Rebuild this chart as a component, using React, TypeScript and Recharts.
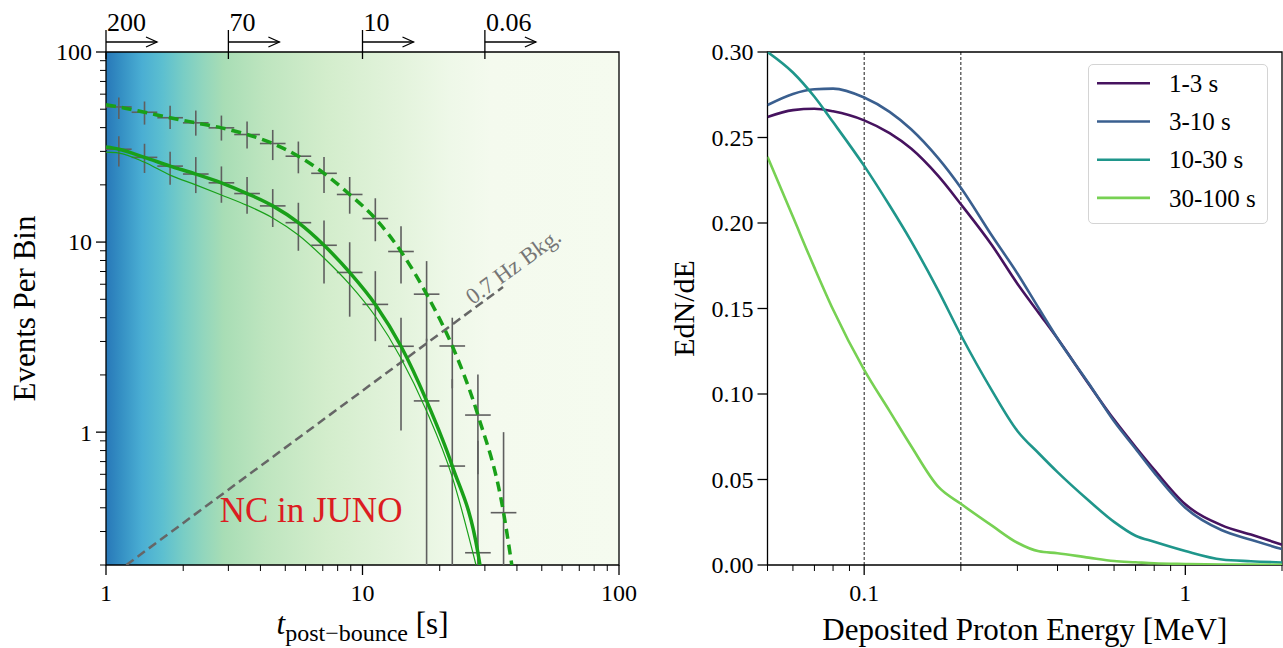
import React from "react";
import {
  ComposedChart,
  LineChart,
  Line,
  Scatter,
  ErrorBar,
  XAxis,
  YAxis,
  ReferenceArea,
  ReferenceDot,
  ReferenceLine,
} from "recharts";

const FONT = "'Liberation Serif', 'DejaVu Serif', serif";

// ---------------------------------------------------------------------------
// Left panel: NC events in JUNO per time bin
// ---------------------------------------------------------------------------

const binEdges = [1, 1.259, 1.585, 1.995, 2.512, 3.162, 3.981, 5.012, 6.31, 7.943, 10, 12.59, 15.85, 19.95, 25.12, 31.62, 39.81];
const binCenters = [1.122, 1.413, 1.778, 2.239, 2.818, 3.548, 4.467, 5.623, 7.079, 8.913, 11.22, 14.13, 17.78, 22.39, 28.18, 35.48];

const upperCounts = [51.4, 48.2, 45.1, 42.4, 39.9, 36.8, 33.0, 28.3, 23.0, 17.8, 13.3, 8.92, 5.32, 2.84, 1.23, 0.377];
const upperLow = [44.4, 41.5, 39.3, 36.3, 34.2, 31.1, 27.0, 23.0, 18.1, 14.1, 10.1, 6.06, 3.0, 1.7, 0.6, 0.2];
const upperHigh = [57.7, 54.9, 52.2, 49.2, 46.3, 43.1, 38.9, 33.8, 28.0, 22.0, 17.0, 12.1, 7.94, 4.0, 2.01, 1.0];

const lowerCounts = [30.8, 27.9, 25.1, 22.8, 20.5, 18.0, 15.5, 12.65, 9.62, 6.92, 4.7, 2.83, 1.46, 0.663, 0.232];
const lowerLow = [25.0, 23.1, 20.0, 18.1, 16.1, 14.1, 12.0, 9.0, 6.06, 4.05, 3.01, 1.02, 0.2, 0.2, 0.2];
const lowerHigh = [36.0, 32.9, 29.9, 28.0, 25.0, 22.0, 19.0, 16.1, 13.0, 9.98, 7.03, 4.0, 3.1, 1.9, 0.9];

const dashedT = [1, 1.122, 1.413, 1.778, 2.239, 2.818, 3.548, 4.467, 5.623, 7.079, 8.913, 11.22, 14.13, 17.78, 22.39, 28.18, 35.48, 38.2];
const dashedN = [52.8, 51.4, 48.2, 45.1, 42.4, 39.9, 36.8, 33.0, 28.3, 23.0, 17.8, 13.3, 8.92, 5.32, 2.84, 1.23, 0.377, 0.2];

const thickT = [1, 1.122, 1.413, 1.778, 2.239, 2.818, 3.548, 4.467, 5.623, 7.079, 8.913, 11.22, 14.13, 17.78, 22.39, 28.18, 28.7];
const thickN = [31.6, 30.8, 27.9, 25.1, 22.8, 20.5, 18.0, 15.5, 12.65, 9.62, 6.92, 4.7, 2.83, 1.46, 0.663, 0.232, 0.2];

const thinT = [1, 1.122, 1.413, 1.778, 2.239, 2.818, 3.548, 4.467, 5.623, 7.079, 8.913, 11.22, 14.13, 17.78, 22.39, 27.7];
const thinN = [29.7, 29.4, 26.3, 22.5, 20.0, 17.7, 15.6, 13.4, 10.9, 8.25, 5.99, 4.07, 2.45, 1.29, 0.58, 0.2];

const bkgT = [1.2, 35.3];
const bkgN = [0.2, 5.8];

const topTimes = [1, 3, 10, 30];
const topLabels = ["200", "70", "10", "0.06"];

const leftXTicks = [1, 2, 3, 4, 5, 6, 7, 8, 9, 10, 20, 30, 40, 50, 60, 70, 80, 90, 100];
const leftXMajor = [1, 10, 100];
const leftYTicks = [0.2, 0.3, 0.4, 0.5, 0.6, 0.7, 0.8, 0.9, 1, 2, 3, 4, 5, 6, 7, 8, 9, 10, 20, 30, 40, 50, 60, 70, 80, 90, 100];
const leftYMajor = [1, 10, 100];

// ---------------------------------------------------------------------------
// Right panel: deposited proton energy spectra
// ---------------------------------------------------------------------------

const energy = [0.05, 0.06, 0.07, 0.08, 0.1, 0.12, 0.14, 0.17, 0.2, 0.25, 0.3, 0.35, 0.4, 0.5, 0.6, 0.7, 0.8, 1.0, 1.3, 1.6, 2.0];
const spec1to3 = [0.262, 0.266, 0.2668, 0.2653, 0.26, 0.2525, 0.2435, 0.2275, 0.211, 0.187, 0.1645, 0.1473, 0.1324, 0.1059, 0.085, 0.069, 0.0558, 0.0355, 0.0232, 0.0178, 0.0119];
const spec3to10 = [0.269, 0.2755, 0.2782, 0.2786, 0.2734, 0.265, 0.2548, 0.2379, 0.2206, 0.1925, 0.1705, 0.15, 0.1325, 0.1063, 0.084, 0.068, 0.054, 0.0335, 0.0203, 0.0148, 0.0093];
const spec10to30 = [0.3, 0.288, 0.2738, 0.259, 0.2334, 0.2102, 0.1894, 0.1606, 0.1345, 0.102, 0.0784, 0.0652, 0.0543, 0.0377, 0.0252, 0.0171, 0.0136, 0.0082, 0.0032, 0.0022, 0.0015];
const spec30to100 = [0.2387, 0.2036, 0.1739, 0.1494, 0.1141, 0.09, 0.0696, 0.0458, 0.0358, 0.023, 0.013, 0.008, 0.0069, 0.0043, 0.0023, 0.0016, 0.001, 0.0006, 0.0003, 0.0002, 0.0001];

const seriesNames = ["1-3 s", "3-10 s", "10-30 s", "30-100 s"];
const seriesKeys = ["s1", "s2", "s3", "s4"];
const seriesColors = ["#46135f", "#3a5f8f", "#1f968b", "#77d153"];

const rightXTicks = [0.05, 0.06, 0.07, 0.08, 0.09, 0.1, 0.2, 0.3, 0.4, 0.5, 0.6, 0.7, 0.8, 0.9, 1, 2];
const rightXMajor = [0.1, 1];
const rightYTicks = [0, 0.05, 0.1, 0.15, 0.2, 0.25, 0.3];
const markerEnergies = [0.1, 0.2];

// ---------------------------------------------------------------------------
// Derived tables
// ---------------------------------------------------------------------------

const Y_FLOOR = 0.2;

const buildPoints = (counts: number[], lo: number[], hi: number[]) =>
  counts.map((n, i) => ({
    t: binCenters[i],
    n,
    ex: [binCenters[i] - binEdges[i], binEdges[i + 1] - binCenters[i]],
    ey: [n - Math.max(lo[i], Y_FLOOR), hi[i] - n],
  }));

const toSeries = (ts: number[], ns: number[]) => ts.map((t, i) => ({ t, n: ns[i] }));

const upperPoints = buildPoints(upperCounts, upperLow, upperHigh);
const lowerPoints = buildPoints(lowerCounts, lowerLow, lowerHigh);

const spectra = energy.map((e, i) => ({
  e,
  s1: spec1to3[i],
  s2: spec3to10[i],
  s3: spec10to30[i],
  s4: spec30to100[i],
}));

// ---------------------------------------------------------------------------
// Ticks
// ---------------------------------------------------------------------------

const isIn = (list: number[], v: number) => list.some((m) => Math.abs(m - v) < 1e-9);

function makeXTick(majors: number[], fmt: (v: number) => string) {
  return (props: any) => {
    const { x, y, payload } = props;
    const major = isIn(majors, payload.value);
    return (
      <g>
        <line x1={x} x2={x} y1={y} y2={y + (major ? 10 : 6)} stroke="#000" strokeWidth={major ? 1.3 : 1} />
        {major && (
          <text x={x} y={y + 36} textAnchor="middle" fontSize={24} fontFamily={FONT} fill="#000">
            {fmt(payload.value)}
          </text>
        )}
      </g>
    );
  };
}

function makeYTick(majors: number[] | null, fmt: (v: number) => string) {
  return (props: any) => {
    const { x, y, payload } = props;
    const major = majors ? isIn(majors, payload.value) : true;
    return (
      <g>
        <line x1={x - (major ? 10 : 6)} x2={x} y1={y} y2={y} stroke="#000" strokeWidth={major ? 1.3 : 1} />
        {major && (
          <text x={x - 14} y={y} dy="0.35em" textAnchor="end" fontSize={24} fontFamily={FONT} fill="#000">
            {fmt(payload.value)}
          </text>
        )}
      </g>
    );
  };
}

const topMarker = (label: string) => (p: any) => {
  const { cx, cy } = p;
  return (
    <g>
      <line x1={cx} x2={cx} y1={cy - 22} y2={cy + 7} stroke="#000" strokeWidth={1.3} />
      <line x1={cx} x2={cx + 51} y1={cy - 10} y2={cy - 10} stroke="#000" strokeWidth={1.3} />
      <polyline
        points={`${cx + 40},${cy - 15} ${cx + 51},${cy - 10} ${cx + 40},${cy - 5}`}
        fill="none"
        stroke="#000"
        strokeWidth={1.3}
      />
      <text x={cx + 1} y={cy - 21} fontSize={26} fontFamily={FONT} fill="#000">
        {label}
      </text>
    </g>
  );
};

const noMarker = () => <g />;

// ---------------------------------------------------------------------------
// Panels
// ---------------------------------------------------------------------------

function LeftPanel() {
  return (
    <ComposedChart width={640} height={648} margin={{ top: 52, right: 21, bottom: 23, left: 46 }}>
      <XAxis
        dataKey="t"
        type="number"
        scale="log"
        domain={[1, 100]}
        allowDataOverflow
        ticks={leftXTicks}
        interval={0}
        tickSize={0}
        tickMargin={0}
        axisLine={false}
        tickLine={false}
        height={60}
        tick={makeXTick(leftXMajor, (v) => String(v))}
        label={{
          content: (p: any) => {
            const vb = p.viewBox;
            return (
              <text x={vb.x + vb.width / 2} y={vb.y + 69} textAnchor="middle" fontSize={31} fontFamily={FONT} fill="#000">
                <tspan fontStyle="italic">t</tspan>
                <tspan fontSize={24} dy={7}>post−bounce</tspan>
                <tspan dy={-7}>{" [s]"}</tspan>
              </text>
            );
          },
        }}
      />
      <YAxis
        type="number"
        scale="log"
        domain={[0.2, 100]}
        allowDataOverflow
        ticks={leftYTicks}
        interval={0}
        tickSize={0}
        tickMargin={0}
        axisLine={false}
        tickLine={false}
        width={60}
        tick={makeYTick(leftYMajor, (v) => String(v))}
        label={{
          content: (p: any) => {
            const vb = p.viewBox;
            const bx = vb.x + vb.width - 71;
            const cy = vb.y + vb.height / 2;
            return (
              <text x={bx} y={cy} transform={`rotate(-90, ${bx}, ${cy})`} textAnchor="middle" fontSize={31} fontFamily={FONT} fill="#000">
                Events Per Bin
              </text>
            );
          },
        }}
      />
      <ReferenceArea x1={1} x2={100} y1={0.2} y2={100} fill="url(#gnbuFade)" fillOpacity={1} stroke="#000" strokeWidth={1.3} />

      <Line data={toSeries(bkgT, bkgN)} dataKey="n" stroke="#666" strokeWidth={2.5} strokeDasharray="9 5" dot={false} isAnimationActive={false} />

      <Scatter data={upperPoints} dataKey="n" shape={noMarker} isAnimationActive={false}>
        <ErrorBar dataKey="ex" direction="x" width={0} stroke="#5f5f5f" strokeWidth={1.6} />
        <ErrorBar dataKey="ey" direction="y" width={0} stroke="#5f5f5f" strokeWidth={1.6} />
      </Scatter>
      <Scatter data={lowerPoints} dataKey="n" shape={noMarker} isAnimationActive={false}>
        <ErrorBar dataKey="ex" direction="x" width={0} stroke="#5f5f5f" strokeWidth={1.6} />
        <ErrorBar dataKey="ey" direction="y" width={0} stroke="#5f5f5f" strokeWidth={1.6} />
      </Scatter>

      <Line data={toSeries(dashedT, dashedN)} dataKey="n" type="monotone" stroke="#19a019" strokeWidth={3.5} strokeDasharray="10 6" dot={false} isAnimationActive={false} />
      <Line data={toSeries(thickT, thickN)} dataKey="n" type="monotone" stroke="#19a019" strokeWidth={3.5} dot={false} isAnimationActive={false} />
      <Line data={toSeries(thinT, thinN)} dataKey="n" type="monotone" stroke="#19a019" strokeWidth={1.2} dot={false} isAnimationActive={false} />

      {topTimes.map((t, i) => (
        <ReferenceDot key={t} x={t} y={100} r={0} ifOverflow="visible" shape={topMarker(topLabels[i])} />
      ))}

      <ReferenceDot
        x={38.6}
        y={7.48}
        r={0}
        ifOverflow="visible"
        shape={(p: any) => (
          <text x={p.cx} y={p.cy} dy="0.35em" transform={`rotate(-36, ${p.cx}, ${p.cy})`} textAnchor="middle" fontSize={23} fontFamily={FONT} fill="#767676">
            0.7 Hz Bkg.
          </text>
        )}
      />
      <ReferenceDot
        x={6.3}
        y={0.389}
        r={0}
        ifOverflow="visible"
        shape={(p: any) => (
          <text x={p.cx} y={p.cy + 12} textAnchor="middle" fontSize={35} fontFamily={FONT} fill="#dc1c22">
            NC in JUNO
          </text>
        )}
      />
    </ComposedChart>
  );
}

function RightPanel() {
  return (
    <LineChart width={643} height={648} data={spectra} margin={{ top: 52, right: 1, bottom: 23, left: 67.5 }}>
      <XAxis
        dataKey="e"
        type="number"
        scale="log"
        domain={[0.05, 2]}
        allowDataOverflow
        ticks={rightXTicks}
        interval={0}
        tickSize={0}
        tickMargin={0}
        axisLine={false}
        tickLine={false}
        height={60}
        tick={makeXTick(rightXMajor, (v) => String(v))}
        label={{
          content: (p: any) => {
            const vb = p.viewBox;
            return (
              <text x={vb.x + vb.width / 2} y={vb.y + 75} textAnchor="middle" fontSize={31} fontFamily={FONT} fill="#000">
                Deposited Proton Energy [MeV]
              </text>
            );
          },
        }}
      />
      <YAxis
        type="number"
        domain={[0, 0.3]}
        allowDataOverflow
        ticks={rightYTicks}
        interval={0}
        tickSize={0}
        tickMargin={0}
        axisLine={false}
        tickLine={false}
        width={60}
        tick={makeYTick(null, (v) => v.toFixed(2))}
        label={{
          content: (p: any) => {
            const vb = p.viewBox;
            const bx = vb.x + vb.width - 74;
            const cy = vb.y + vb.height / 2;
            return (
              <text x={bx} y={cy} transform={`rotate(-90, ${bx}, ${cy})`} textAnchor="middle" fontSize={30} fontFamily={FONT} fill="#000">
                EdN/dE
              </text>
            );
          },
        }}
      />
      <ReferenceArea x1={0.05} x2={2} y1={0} y2={0.3} fill="none" stroke="#000" strokeWidth={1.3} />
      {markerEnergies.map((e) => (
        <ReferenceLine key={e} x={e} stroke="#000" strokeWidth={0.9} strokeDasharray="3 2" />
      ))}
      {seriesKeys.map((k, i) => (
        <Line key={k} dataKey={k} type="monotone" stroke={seriesColors[i]} strokeWidth={2.6} dot={false} isAnimationActive={false} />
      ))}
    </LineChart>
  );
}

function SpectraLegend() {
  return (
    <div
      style={{
        position: "absolute",
        left: 1088,
        top: 64,
        width: 180,
        height: 160,
        border: "1px solid #d4d4d4",
        borderRadius: 5,
        background: "rgba(255,255,255,0.85)",
        boxSizing: "border-box",
      }}
    >
      <svg width={180} height={160} style={{ position: "absolute", left: -1, top: -1 }}>
        {seriesNames.map((name, i) => {
          const cy = 19.3 + 38.2 * i;
          return (
            <g key={name}>
              <line x1={9} x2={62} y1={cy} y2={cy} stroke={seriesColors[i]} strokeWidth={2.6} />
              <text x={81} y={cy} dy="0.35em" fontSize={25} fontFamily={FONT} fill="#000">
                {name}
              </text>
            </g>
          );
        })}
      </svg>
    </div>
  );
}

export default function App() {
  return (
    <div style={{ position: "absolute", left: 0, top: 0, width: 1283, height: 648, background: "#fff", overflow: "hidden" }}>
      <svg width={0} height={0} style={{ position: "absolute" }}>
        <defs>
          <linearGradient id="gnbuFade" x1="0" y1="0" x2="1" y2="0">
            <stop offset="0" stopColor="#2878b8" />
            <stop offset="0.03" stopColor="#3590c4" />
            <stop offset="0.07" stopColor="#4aaed3" />
            <stop offset="0.11" stopColor="#5cbfd0" />
            <stop offset="0.15" stopColor="#78cdc5" />
            <stop offset="0.19" stopColor="#92d6bd" />
            <stop offset="0.23" stopColor="#a8ddb5" />
            <stop offset="0.31" stopColor="#bee5bf" />
            <stop offset="0.43" stopColor="#d3edcc" />
            <stop offset="0.59" stopColor="#e5f4de" />
            <stop offset="0.67" stopColor="#eef8e8" />
            <stop offset="0.75" stopColor="#f4faee" />
            <stop offset="1" stopColor="#f5fbef" />
          </linearGradient>
        </defs>
      </svg>
      <div style={{ position: "absolute", left: 0, top: 0 }}>
        <LeftPanel />
      </div>
      <div style={{ position: "absolute", left: 640, top: 0 }}>
        <RightPanel />
      </div>
      <SpectraLegend />
    </div>
  );
}
